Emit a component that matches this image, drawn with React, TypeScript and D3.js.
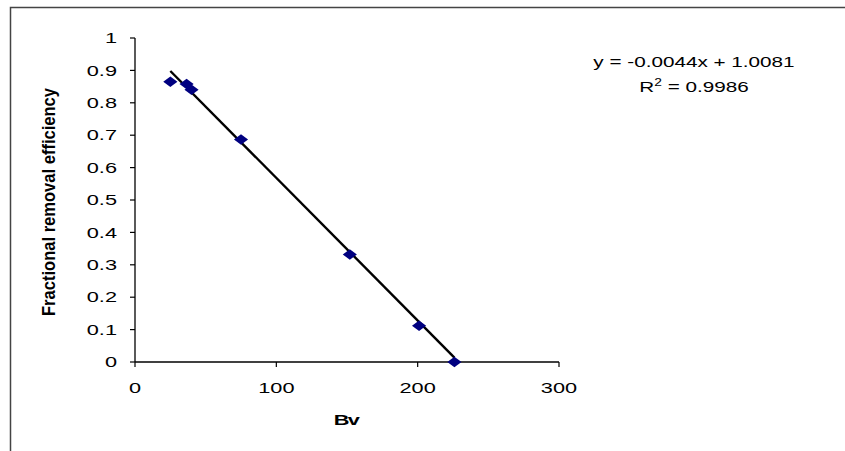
import React, { useEffect, useRef } from 'react';
import * as d3 from 'd3';

// Bv vs fractional removal efficiency
const bvValues = [25, 36.5, 40, 75, 152, 201, 226];
const efficiency = [0.865, 0.858, 0.84, 0.687, 0.332, 0.112, 0.0];
const xTicks = [0, 100, 200, 300];
const yTicks = [0, 0.1, 0.2, 0.3, 0.4, 0.5, 0.6, 0.7, 0.8, 0.9, 1];
const slope = -0.0044;
const intercept = 1.0081;
const eqLabel = 'y = -0.0044x + 1.0081';
const r2Value = '0.9986';

const W = 845, H = 451;
// the source picture has its text squashed sideways, so stretch it the same way
const SX = 1.45;

const App = () => {
  const svgRef = useRef<SVGSVGElement>(null);

  useEffect(() => {
    const svg = d3.select(svgRef.current);
    svg.selectAll('*').remove();

    const font = 'Arial, "Liberation Sans", sans-serif';
    const x = d3.scaleLinear().domain([0, 300]).range([135, 559]);
    const y = d3.scaleLinear().domain([0, 1]).range([362, 38]);

    svg.append('rect').attr('width', W).attr('height', H).attr('fill', '#fff');

    // outer frame (top + left only visible)
    svg.append('path')
      .attr('d', `M10.5,${H} V7.5 H${W}`)
      .attr('fill', 'none')
      .attr('stroke', '#444')
      .attr('stroke-width', 1.5);

    // x axis
    const xAxis = svg.append('g');
    xAxis.append('line')
      .attr('x1', x(0)).attr('x2', x(300))
      .attr('y1', y(0)).attr('y2', y(0))
      .attr('stroke', '#000').attr('stroke-width', 1.3);
    xAxis.selectAll('.xt').data(xTicks).enter().append('line')
      .attr('x1', d => x(d)).attr('x2', d => x(d))
      .attr('y1', y(0)).attr('y2', y(0) + 5)
      .attr('stroke', '#000').attr('stroke-width', 1.2);
    xAxis.selectAll('.xl').data(xTicks).enter().append('text')
      .attr('transform', d => `translate(${x(d)},393) scale(${SX},1)`)
      .attr('text-anchor', 'middle')
      .attr('font-family', font).attr('font-size', 15)
      .text(d => d);

    // y axis
    const yAxis = svg.append('g');
    yAxis.append('line')
      .attr('x1', x(0)).attr('x2', x(0))
      .attr('y1', y(0)).attr('y2', y(1))
      .attr('stroke', '#000').attr('stroke-width', 1.3);
    yAxis.selectAll('.yt').data(yTicks).enter().append('line')
      .attr('x1', x(0) - 5).attr('x2', x(0))
      .attr('y1', d => y(d)).attr('y2', d => y(d))
      .attr('stroke', '#000').attr('stroke-width', 1.2);
    yAxis.selectAll('.yl').data(yTicks).enter().append('text')
      .attr('transform', d => `translate(117,${y(d)}) scale(${SX},1)`)
      .attr('dy', '0.35em')
      .attr('text-anchor', 'end')
      .attr('font-family', font).attr('font-size', 15)
      .text(d => d3.format('')(d));

    // axis titles
    svg.append('text')
      .attr('transform', `translate(346,425) scale(${SX},1)`)
      .attr('text-anchor', 'middle')
      .attr('font-family', font).attr('font-size', 15).attr('font-weight', 'bold')
      .attr('letter-spacing', -1.2)
      .text('Bv');
    svg.append('text')
      .attr('transform', `translate(55,202) scale(1.25,1) rotate(-90)`)
      .attr('text-anchor', 'middle')
      .attr('font-family', font).attr('font-size', 14).attr('font-weight', 'bold')
      .attr('textLength', 228).attr('lengthAdjust', 'spacingAndGlyphs')
      .text('Fractional removal efficiency');

    // trendline
    const [x0, x1] = d3.extent(bvValues) as [number, number];
    svg.append('line')
      .attr('x1', x(x0)).attr('y1', y(slope * x0 + intercept))
      .attr('x2', x(x1)).attr('y2', y(Math.max(0, slope * x1 + intercept)))
      .attr('stroke', '#000').attr('stroke-width', 2.4);

    // points
    const diamond = d3.symbol().type(d3.symbolDiamond2).size(70);
    svg.selectAll('.pt').data(bvValues).enter().append('path')
      .attr('d', diamond)
      .attr('transform', (d, i) => `translate(${x(d)},${y(efficiency[i])}) scale(1.35,1)`)
      .attr('fill', '#000080');

    // equation
    svg.append('text')
      .attr('transform', `translate(694,67) scale(1.38,1)`)
      .attr('text-anchor', 'middle')
      .attr('font-family', font).attr('font-size', 15)
      .text(eqLabel);
    const r2 = svg.append('text')
      .attr('transform', `translate(694,92) scale(1.38,1)`)
      .attr('text-anchor', 'middle')
      .attr('font-family', font).attr('font-size', 15);
    r2.append('tspan').text('R');
    r2.append('tspan').attr('font-size', 10).attr('dy', -6).text('2');
    r2.append('tspan').attr('dy', 6).text(' = ' + r2Value);
  }, []);

  return (
    <svg ref={svgRef} width={W} height={H}
      style={{ position: 'absolute', left: 0, top: 0, display: 'block' }} />
  );
};

export default App;
